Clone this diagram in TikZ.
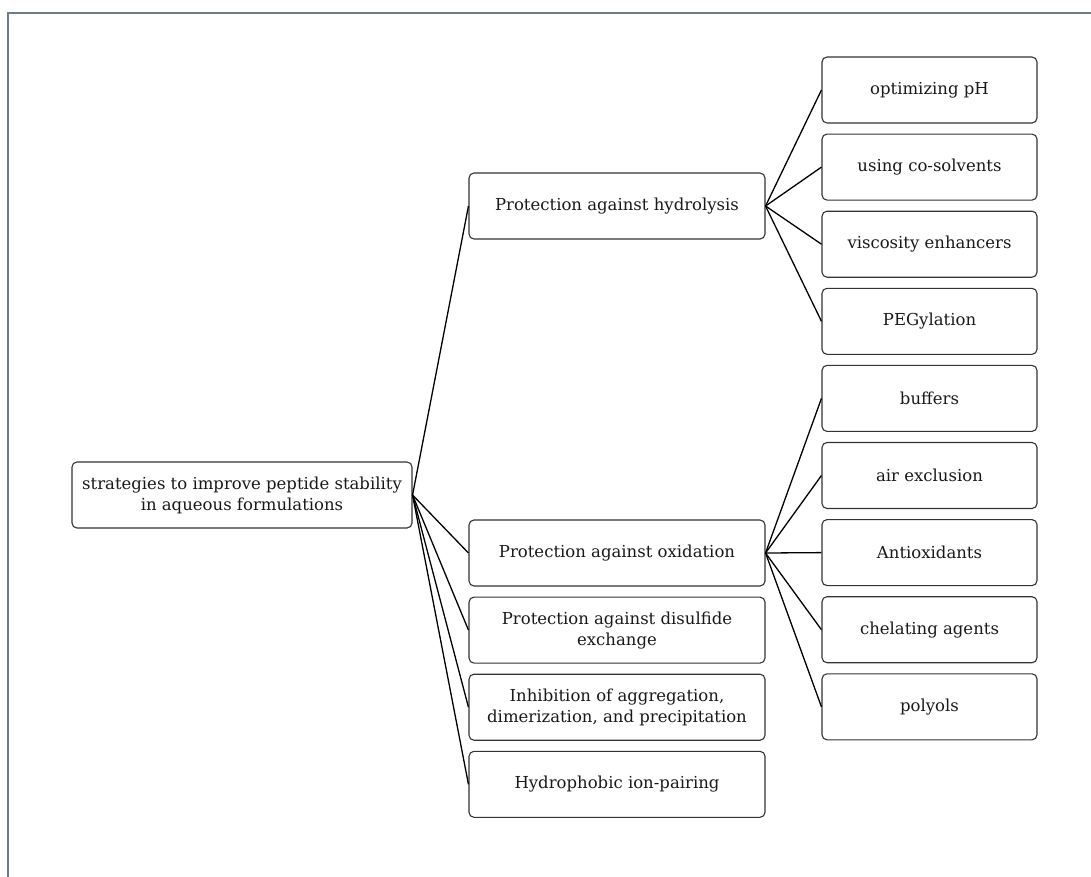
\documentclass[tikz,border=0pt]{standalone}
\usepackage{fontspec}
\setmainfont{DejaVu Serif}
\usetikzlibrary{positioning}

\begin{document}
\begin{tikzpicture}[x=1pt, y=-1pt, node distance=10pt,
        box/.style={rounded corners=5pt, draw=black!80, line width=1.1pt, minimum height=66pt, align=center, font=\fontsize{16.5}{21}\selectfont, text=black!90},
        midbox/.style={box, minimum width=296pt},
        leafbox/.style={box, minimum width=215pt},
        link/.style={line width=1.3pt, black}]
        \useasboundingbox (0,0) rectangle (1091,876);
        \draw[line width=1.5pt, color={rgb,255:red,110;green,123;blue,139}] (8,880) -- (8,13) -- (1095,13);

        % Define nodes
        \node (strategies) [box, minimum width=340pt] at (242,495) {strategies to improve peptide stability\\in aqueous formulations};
        \node (hydrolysis) [midbox] at (617,206) {Protection against hydrolysis};
        \node (oxidation) [midbox] at (617,553) {Protection against oxidation};
        \node (disulfide) [midbox, below=of oxidation] {Protection against disulfide\\exchange};
        \node (aggregation) [midbox, below=of disulfide] {Inhibition of aggregation,\\dimerization, and precipitation};
        \node (ionpairing) [midbox, below=of aggregation] {Hydrophobic ion-pairing};

        \node (ph) [leafbox] at (929.5,90) {optimizing pH};
        \node (cosolvents) [leafbox, below=of ph] {using co-solvents};
        \node (viscosity) [leafbox, below=of cosolvents] {viscosity enhancers};
        \node (pegylation) [leafbox, below=of viscosity] {PEGylation};
        \node (buffers) [leafbox, below=of pegylation] {buffers};
        \node (air) [leafbox, below=of buffers] {air exclusion};
        \node (antioxidants) [leafbox, below=of air] {Antioxidants};
        \node (chelating) [leafbox, below=of antioxidants] {chelating agents};
        \node (polyols) [leafbox, below=of chelating] {polyols};

        % Draw lines
        \foreach \n in {hydrolysis, oxidation, disulfide, aggregation, ionpairing}
            \draw[link] (strategies.east) -- (\n.west);
        \foreach \n in {ph, cosolvents, viscosity, pegylation}
            \draw[link] (hydrolysis.east) -- (\n.west);
        \foreach \n in {buffers, air, antioxidants, chelating, polyols}
            \draw[link] (oxidation.east) -- (\n.west);
\end{tikzpicture}
\end{document}
